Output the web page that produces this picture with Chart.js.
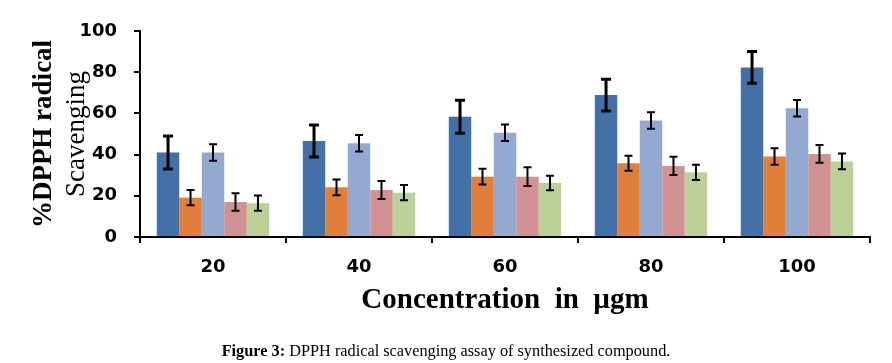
<!DOCTYPE html>
<html>
<head>
<meta charset="utf-8">
<script src="https://cdn.jsdelivr.net/npm/chart.js@4/dist/chart.umd.min.js"></script>
<style>
  body { margin: 0; background: #fff; }
  #wrap { position: relative; width: 892px; height: 363px; }
  #caption {
    position: absolute; left: 0; width: 892px; top: 341px;
    text-align: center; font-family: "Liberation Serif", serif; font-size: 16.3px; color: #000;
  }
</style>
</head>
<body>
<div id="wrap">
  <canvas id="dpphChart" width="892" height="363"></canvas>
  <div id="caption"><b>Figure 3:</b> DPPH radical scavenging assay of synthesized compound.</div>
</div>
<script>
// concentrations (µgm)
const categories = ['20', '40', '60', '80', '100'];

// % scavenging per sample
const seriesA = [41, 46.6, 58.4, 68.9, 82.3];
const seriesB = [19.1, 24.1, 29.3, 35.8, 39.1];
const seriesC = [41, 45.5, 50.6, 56.5, 62.5];
const seriesD = [17, 22.8, 29.3, 34.5, 40.3];
const seriesE = [16.4, 21.5, 26.2, 31.4, 36.7];

// error (±) for each point
const errA = [8, 7.8, 8, 7.7, 7.7];
const errB = [3.7, 3.8, 3.8, 3.7, 4];
const errC = [4, 4, 4, 4, 4];
const errD = [4.2, 4.4, 4.5, 4.4, 4.3];
const errE = [3.7, 3.7, 3.5, 3.7, 3.8];

const yTicks = [0, 20, 40, 60, 80, 100];

const ctx = document.getElementById('dpphChart').getContext('2d');

// draws the ± error bars on top of each bar
const errorBars = {
    id: 'errorBars',
    afterDatasetsDraw(chart) {
        const c = chart.ctx;
        const y = chart.scales.y;
        chart.data.datasets.forEach((ds, i) => {
            const meta = chart.getDatasetMeta(i);
            c.save();
            c.strokeStyle = '#000';
            c.lineWidth = ds.errWidth;
            meta.data.forEach((bar, j) => {
                const top = y.getPixelForValue(ds.data[j] + ds.errors[j]);
                const bot = y.getPixelForValue(ds.data[j] - ds.errors[j]);
                const half = ds.capHalf;
                c.beginPath();
                c.moveTo(bar.x, top); c.lineTo(bar.x, bot);
                c.moveTo(bar.x - half, top); c.lineTo(bar.x + half, top);
                c.moveTo(bar.x - half, bot); c.lineTo(bar.x + half, bot);
                c.stroke();
            });
            c.restore();
        });
    }
};

// y title: two lines, the second one sits under the tick labels like in the original
const yTitle = {
    id: 'yTitle',
    beforeDraw(chart) {
        const c = chart.ctx;
        const area = chart.chartArea;
        const mid = (area.top + area.bottom) / 2;
        c.save();
        c.fillStyle = '#000';
        c.textAlign = 'center';
        c.textBaseline = 'middle';
        c.font = 'bold 27px "Liberation Serif"';
        c.translate(44, mid);
        c.rotate(-Math.PI / 2);
        c.fillText('%DPPH radical', 0, 0);
        c.restore();
        c.save();
        c.fillStyle = '#000';
        c.textAlign = 'center';
        c.textBaseline = 'middle';
        c.font = '27px "Liberation Serif"';
        c.translate(77, mid);
        c.rotate(-Math.PI / 2);
        c.fillText('Scavenging', 0, 0);
        c.restore();
    }
};

function makeSet(data, errors, color, errWidth, capHalf) {
    return {
        data: data,
        errors: errors,
        backgroundColor: color,
        borderWidth: 0,
        errWidth: errWidth,
        capHalf: capHalf,
        categoryPercentage: 0.77,
        barPercentage: 1.0
    };
}

const chart = new Chart(ctx, {
    type: 'bar',
    data: {
        labels: categories,
        datasets: [
            makeSet(seriesA, errA, '#4371A7', 3, 5),
            makeSet(seriesB, errB, '#E0803A', 2, 4),
            makeSet(seriesC, errC, '#94A9D0', 2, 4),
            makeSet(seriesD, errD, '#D29294', 2, 4),
            makeSet(seriesE, errE, '#BCD098', 2, 4)
        ]
    },
    options: {
        responsive: false,
        animation: false,
        layout: { padding: { top: 31, right: 22, bottom: 40, left: 0 } },
        plugins: {
            legend: { display: false },
            tooltip: { enabled: false }
        },
        scales: {
            x: {
                afterFit: (s) => { s.height = 86; },
                grid: {
                    drawOnChartArea: false,
                    color: '#000',
                    lineWidth: 2,
                    tickLength: 6,
                    offset: true
                },
                border: { color: '#000', width: 2 },
                ticks: {
                    color: '#000',
                    padding: 14,
                    font: { family: 'DejaVu Sans', weight: 'bold', size: 18 }
                },
                title: {
                    display: true,
                    text: 'Concentration  in  µgm',
                    color: '#000',
                    padding: { top: 0, bottom: 5 },
                    font: { family: 'Liberation Serif', weight: 'bold', size: 29 }
                }
            },
            y: {
                min: 0,
                max: 100,
                afterFit: (s) => { s.width = 140; },
                afterBuildTicks: (s) => { s.ticks = yTicks.map(v => ({ value: v })); },
                grid: {
                    drawOnChartArea: false,
                    color: '#000',
                    lineWidth: 2,
                    tickLength: 6
                },
                border: { color: '#000', width: 2 },
                ticks: {
                    color: '#000',
                    padding: 17,
                    font: { family: 'DejaVu Sans', weight: 'bold', size: 18 }
                }
            }
        }
    },
    plugins: [errorBars, yTitle]
});
</script>
</body>
</html>
